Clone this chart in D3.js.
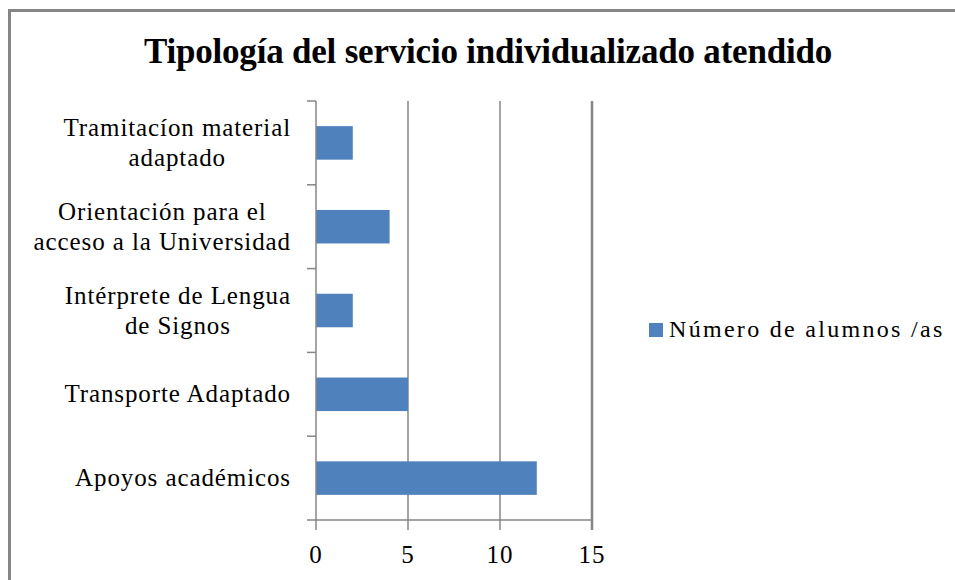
<!DOCTYPE html>
<html>
<head>
<meta charset="utf-8">
<script src="https://cdn.jsdelivr.net/npm/d3@7"></script>
<style>
  html, body { margin: 0; background: #fff; overflow: hidden; }
  svg { display: block; }
  text { font-family: "Liberation Serif", "DejaVu Serif", serif; fill: #000; }
</style>
</head>
<body>
<div id="chart-area"></div>
<script>
// data
var categories = [
  ["Tramitacíon material", "adaptado"],
  ["Orientación para el", "acceso a la Universidad"],
  ["Intérprete de Lengua", "de Signos"],
  ["Transporte Adaptado"],
  ["Apoyos académicos"]
];
var values = [2, 4, 2, 5, 12];
var xTicks = [0, 5, 10, 15];
var seriesName = "Número de alumnos /as";
var titleText = "Tipología del servicio individualizado atendido";

var W = 955, H = 580;
var margin = {left: 316, top: 101, right: 363, bottom: 60};
var width = W - margin.left - margin.right,
    height = H - margin.top - margin.bottom;

var svg = d3.select("#chart-area").append("svg")
  .attr("width", W).attr("height", H);

// outer frame (only top and left edges are in view)
svg.append("path")
  .attr("d", "M9.5," + H + "V10.5H" + W)
  .attr("fill", "none").attr("stroke", "#868686").attr("stroke-width", 3);

// title
svg.append("text")
  .attr("x", 488).attr("y", 63)
  .attr("text-anchor", "middle")
  .style("font-size", "35px").style("font-weight", "bold")
  .style("letter-spacing", "-0.2px")
  .text(titleText);

var g = svg.append("g")
  .attr("transform", "translate(" + margin.left + "," + margin.top + ")");

//scales
var x = d3.scaleLinear().domain([0, 15]).range([0, width]);
var y = d3.scaleBand().domain(d3.range(categories.length)).range([0, height]).paddingInner(0.6).paddingOuter(0.3);
var yb = d3.scaleBand().domain(d3.range(categories.length)).range([0, height]);

// gridlines
g.selectAll(".grid").data(xTicks.slice(1)).enter().append("line")
  .attr("x1", d => x(d)).attr("x2", d => x(d))
  .attr("y1", 0).attr("y2", height)
  .attr("stroke", "#868686")
  .attr("stroke-width", d => d === 15 ? 2.5 : 1.5);

// bars
g.selectAll(".bar").data(values).enter().append("rect")
  .attr("x", x(0))
  .attr("y", (d, i) => y(i))
  .attr("width", d => x(d) - x(0))
  .attr("height", y.bandwidth())
  .attr("fill", "#4f81bd");

// y axis line + ticks
g.append("line").attr("x1", 0).attr("x2", 0).attr("y1", 0).attr("y2", height)
  .attr("stroke", "#868686").attr("stroke-width", 1.5);
var bounds = d3.range(categories.length + 1).map(i => i < categories.length ? yb(i) : height);
g.selectAll(".ytick").data(bounds).enter().append("line")
  .attr("x1", -9).attr("x2", 0)
  .attr("y1", d => d).attr("y2", d => d)
  .attr("stroke", "#868686").attr("stroke-width", 1.5);

// x axis line + ticks
g.append("line").attr("x1", 0).attr("x2", width).attr("y1", height).attr("y2", height)
  .attr("stroke", "#868686").attr("stroke-width", 1.5);
g.selectAll(".xtick").data(xTicks).enter().append("line")
  .attr("x1", d => x(d)).attr("x2", d => x(d))
  .attr("y1", height).attr("y2", height + 10)
  .attr("stroke", "#868686").attr("stroke-width", d => d === 15 ? 2.5 : 1.5);
g.selectAll(".xlab").data(xTicks).enter().append("text")
  .attr("x", d => x(d)).attr("y", height + 43)
  .attr("text-anchor", "middle")
  .style("font-size", "25px").style("letter-spacing", "1px")
  .text(d => d);

// category labels (centered lines, block right-aligned)
var lineH = 30;
categories.forEach(function(lines, i) {
  var cy = yb(i) + yb.bandwidth() / 2;
  var lab = g.append("g");
  var texts = lines.map(function(s, k) {
    return lab.append("text")
      .attr("y", cy + (k - (lines.length - 1) / 2) * lineH + 8)
      .attr("text-anchor", "middle")
      .style("font-size", "25px").style("letter-spacing", "0.9px")
      .text(s);
  });
  var maxW = d3.max(texts, t => t.node().getComputedTextLength());
  texts.forEach(t => t.attr("x", -25 - maxW / 2));
});

// legend
var leg = svg.append("g").attr("transform", "translate(649,323)");
leg.append("rect").attr("width", 14).attr("height", 14).attr("fill", "#4f81bd");
leg.append("text").attr("x", 20).attr("y", 14)
  .style("font-size", "24px").style("letter-spacing", "2.3px")
  .text(seriesName);
</script>
</body>
</html>
